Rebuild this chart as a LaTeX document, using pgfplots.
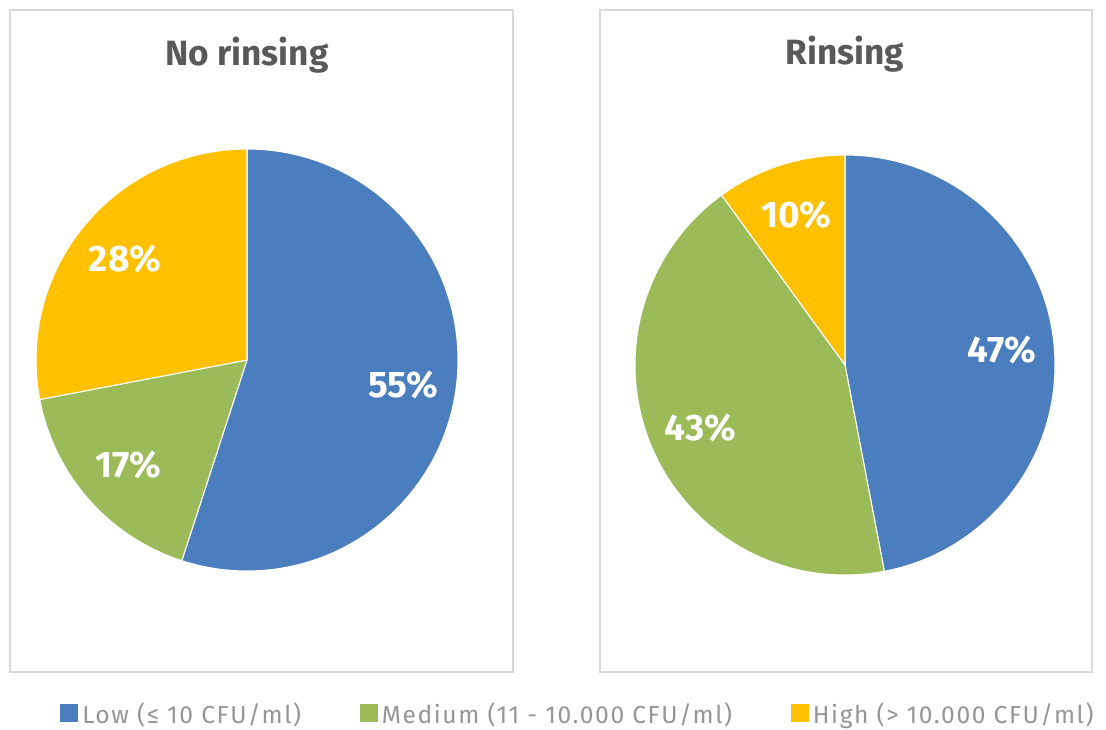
\documentclass[border=0pt]{standalone}
\usepackage{pgfplots}
\pgfplotsset{compat=1.18}
\usepackage{pgfplotstable}
\usepackage{fontspec}
\setmainfont{Fira Sans}

\definecolor{pieblue}{HTML}{4A7EBF}
\definecolor{piegreen}{HTML}{9BBB59}
\definecolor{pieyellow}{HTML}{FFC000}
\definecolor{framegray}{HTML}{D9D9D9}
\definecolor{titlegray}{HTML}{595959}
\definecolor{leggray}{HTML}{959595}

% shares in percent, clockwise from 12 o'clock
\pgfplotstableread{
label  value color
Low    55    pieblue
Medium 17    piegreen
High   28    pieyellow
}\norinsing
\pgfplotstableread{
label  value color
Low    47    pieblue
Medium 43    piegreen
High   10    pieyellow
}\rinsing

\tikzset{pielabel/.style={text=white, font=\bfseries\fontsize{21}{24}\selectfont}}

% #1 table, #2 radius (same as the axis unit)
\newcommand\drawpie[2]{%
  \pgfplotstablegetrowsof{#1}\pgfmathtruncatemacro\npie{\pgfplotsretval-1}%
  \gdef\pieangle{90}%
  \foreach \i in {0,...,\npie}{%
    \pgfplotstablegetelem{\i}{value}\of{#1}\let\v\pgfplotsretval
    \pgfplotstablegetelem{\i}{color}\of{#1}\let\c\pgfplotsretval
    \pgfmathsetmacro\a{\pieangle}%
    \pgfmathsetmacro\b{\pieangle-3.6*\v}%
    \pgfmathsetmacro\m{(\a+\b)/2}%
    \edef\temp{\noexpand\fill[\c, draw=white, line width=0.6pt]
      (axis cs:0,0) -- (axis cs:{cos(\a)},{sin(\a)})
      arc[start angle=\a, end angle=\b, radius=#2] -- cycle;
      \noexpand\node[pielabel] at (axis cs:{0.75*cos(\m)},{0.75*sin(\m)}) {\v\noexpand\%};}%
    \temp
    \xdef\pieangle{\b}%
  }}

\begin{document}
\begin{tikzpicture}
\path[use as bounding box] (0,0) rectangle (22.12cm,-14.58cm);
\draw[framegray, line width=0.8pt] (0.2cm,-0.2cm) rectangle (10.26cm,-13.44cm);
\draw[framegray, line width=0.8pt] (12.0cm,-0.2cm) rectangle (21.84cm,-13.44cm);

\begin{axis}[
    x=4.22cm, y=4.22cm,
    xmin=-1, xmax=1, ymin=-1, ymax=1,
    hide axis, clip=false,
    anchor=center, at={(4.94cm,-7.2cm)},
    legend columns=3,
    legend style={draw=none, fill=none, at={(1.2856,-0.341)}, anchor=center,
        font=\fontsize{14}{16}\selectfont\addfontfeatures{LetterSpace=6.5}, text=leggray,
        /tikz/every odd column/.append style={column sep=0.02cm},
        /tikz/every even column/.append style={column sep=1.1cm}},
    legend image code/.code={\fill[#1] (0cm,-0.12cm) rectangle (0.34cm,0.22cm);},
]
\addlegendimage{pieblue}
\addlegendentry{Low (≤ 10 CFU/ml)}
\addlegendimage{piegreen}
\addlegendentry{Medium (11 - 10.000 CFU/ml)}
\addlegendimage{pieyellow}
\addlegendentry{High (> 10.000 CFU/ml)}
\drawpie{\norinsing}{4.22cm}
\node[anchor=base, text=titlegray, font=\bfseries\fontsize{20}{24}\selectfont]
    at (axis cs:0,1.398) {No rinsing};
\end{axis}

\begin{axis}[
    x=4.2cm, y=4.2cm,
    xmin=-1, xmax=1, ymin=-1, ymax=1,
    hide axis, clip=false,
    anchor=center, at={(16.9cm,-7.3cm)},
]
\drawpie{\rinsing}{4.2cm}
\node[anchor=base, text=titlegray, font=\bfseries\fontsize{20}{24}\selectfont]
    at (axis cs:0,1.43) {Rinsing};
\end{axis}
\end{tikzpicture}
\end{document}
